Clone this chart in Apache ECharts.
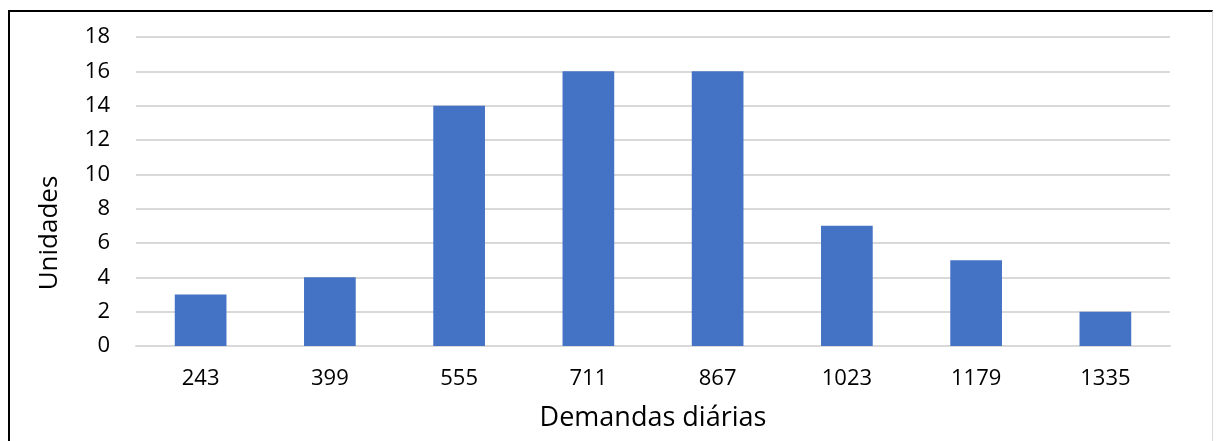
<!DOCTYPE html>
<html>
<head>
<meta charset="utf-8">
<script src="https://cdn.jsdelivr.net/npm/echarts@6/dist/echarts.min.js"></script>
<style>
  html, body { margin: 0; padding: 0; background: #fff; }
  #wrap { position: relative; width: 1216px; height: 441px; overflow: hidden; }
  #frame { position: absolute; left: 8px; top: 10px; width: 1205px; height: 440px;
           border-left: 2px solid #000; border-top: 2px solid #000; border-right: 1px solid #d9d9d9; box-sizing: border-box; }
  #chart { position: absolute; left: 0; top: 0; width: 1216px; height: 441px; }
</style>
</head>
<body>
<div id="wrap">
  <div id="frame"></div>
  <div id="chart"></div>
</div>
<script>
// Daily demand classes and number of units per class
const categories = ['243', '399', '555', '711', '867', '1023', '1179', '1335'];
const unidades = [3, 4, 14, 16, 16, 7, 5, 2];
const yTicks = { min: 0, max: 18, interval: 2 };

const chart = echarts.init(document.getElementById('chart'), null, { renderer: 'canvas' });
const font = 'Open Sans, Noto Sans, sans-serif';

chart.setOption({
  animation: false,
  grid: { left: 136, right: 46, top: 37, bottom: 95 },
  graphic: [{
    // vertical axis title
    type: 'text',
    x: 50,
    y: 233,
    rotation: Math.PI / 2,
    style: {
      text: 'Unidades',
      font: '26px ' + font,
      fill: '#000',
      align: 'center',
      verticalAlign: 'middle'
    }
  }],
  xAxis: {
    type: 'category',
    data: categories,
    name: 'Demandas diárias',
    nameLocation: 'middle',
    nameGap: 59,
    nameTextStyle: { fontFamily: font, fontSize: 27, color: '#000' },
    axisLine: { show: true, lineStyle: { color: '#d9d9d9', width: 2 } },
    axisTick: { show: false },
    axisLabel: { fontFamily: font, fontSize: 22, color: '#000', margin: 22 }
  },
  yAxis: {
    type: 'value',
    min: yTicks.min,
    max: yTicks.max,
    interval: yTicks.interval,
    axisLine: { show: false },
    axisTick: { show: false },
    axisLabel: { fontFamily: font, fontSize: 22, color: '#000', margin: 26 },
    splitLine: { lineStyle: { color: '#d9d9d9', width: 2 } }
  },
  series: [{
    type: 'bar',
    data: unidades,
    barWidth: '40%',
    itemStyle: { color: '#4472c4' }
  }]
});
</script>
</body>
</html>
